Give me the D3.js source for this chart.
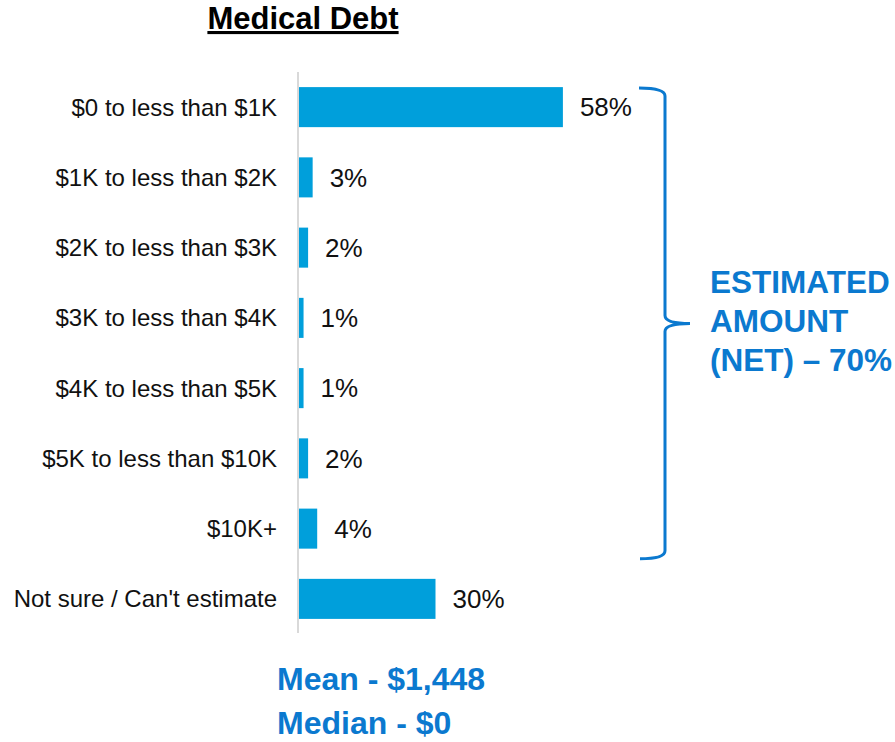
<!DOCTYPE html>
<html>
<head>
<meta charset="utf-8">
<script src="https://d3js.org/d3.v7.min.js"></script>
<style>
  body { margin: 0; background: #fff; }
  text { font-family: "Liberation Sans", Arial, sans-serif; }
</style>
</head>
<body>
<svg id="chart" width="895" height="742"></svg>
<script>
// data
var categories = ["$0 to less than $1K", "$1K to less than $2K", "$2K to less than $3K",
    "$3K to less than $4K", "$4K to less than $5K", "$5K to less than $10K", "$10K+",
    "Not sure / Can't estimate"];
var values = [58, 3, 2, 1, 1, 2, 4, 30];
var netLabel = ["ESTIMATED", "AMOUNT", "(NET) \u2013 70%"];
var stats = ["Mean - $1,448", "Median - $0"];

var svg = d3.select("#chart");
var barColor = "#009fdb", blue = "#0b79cf";

// scales
var x = d3.scaleLinear().domain([0, 100]).range([299, 299 + 455]);
var y = d3.scaleBand().domain(categories).range([72, 634])
    .paddingInner(0.43).paddingOuter(0.215);

// title
svg.append("text")
    .attr("x", 303).attr("y", 29)
    .attr("text-anchor", "middle")
    .style("font-size", "31px").style("font-weight", "bold")
    .style("text-decoration", "underline")
    .text("Medical Debt");

// axis line
svg.append("line")
    .attr("x1", 298).attr("x2", 298)
    .attr("y1", 72).attr("y2", 633)
    .style("stroke", "#d9d9d9").style("stroke-width", 2);

// bars
svg.append("g").selectAll("rect")
    .data(values)
    .enter()
    .append("rect")
    .attr("x", x(0))
    .attr("y", function (d, i) { return y(categories[i]) })
    .attr("width", function (d) { return x(d) - x(0) })
    .attr("height", y.bandwidth())
    .attr("fill", barColor);

// category labels
svg.append("g").selectAll("text")
    .data(categories)
    .enter()
    .append("text")
    .attr("x", 277)
    .attr("y", function (d) { return y(d) + y.bandwidth() / 2 })
    .attr("dy", "0.35em")
    .attr("text-anchor", "end")
    .style("font-size", "24px").style("fill", "#111")
    .text(function (d) { return d });

// value labels
svg.append("g").selectAll("text")
    .data(values)
    .enter()
    .append("text")
    .attr("x", function (d) { return x(d) + 17 })
    .attr("y", function (d, i) { return y(categories[i]) + y.bandwidth() / 2 })
    .attr("dy", "0.36em")
    .style("font-size", "26px").style("fill", "#111")
    .text(function (d) { return d + "%" });

// bracket round the net group
var bTop = y(categories[0]) + 1,
    bBot = y(categories[6]) + y.bandwidth() + 10,
    bMid = (bTop + bBot) / 2,
    bx = 665;
svg.append("path")
    .attr("d", "M639," + bTop + " Q" + bx + "," + bTop + " " + bx + "," + (bTop + 8) +
        " L" + bx + "," + (bMid - 8) + " Q" + bx + "," + bMid + " " + (bx + 25) + "," + bMid +
        " Q" + bx + "," + bMid + " " + bx + "," + (bMid + 8) +
        " L" + bx + "," + (bBot - 8) + " Q" + bx + "," + bBot + " 640," + bBot)
    .style("fill", "none").style("stroke", blue).style("stroke-width", 3);

svg.append("g").selectAll("text")
    .data(netLabel)
    .enter()
    .append("text")
    .attr("x", 710)
    .attr("y", function (d, i) { return 293 + i * 39 })
    .style("font-size", "31.5px").style("font-weight", "bold").style("fill", blue)
    .text(function (d) { return d });

// mean / median
svg.append("g").selectAll("text")
    .data(stats)
    .enter()
    .append("text")
    .attr("x", 277)
    .attr("y", function (d, i) { return 690 + i * 44 })
    .style("font-size", "32px").style("font-weight", "bold").style("fill", blue)
    .text(function (d) { return d });
</script>
</body>
</html>
